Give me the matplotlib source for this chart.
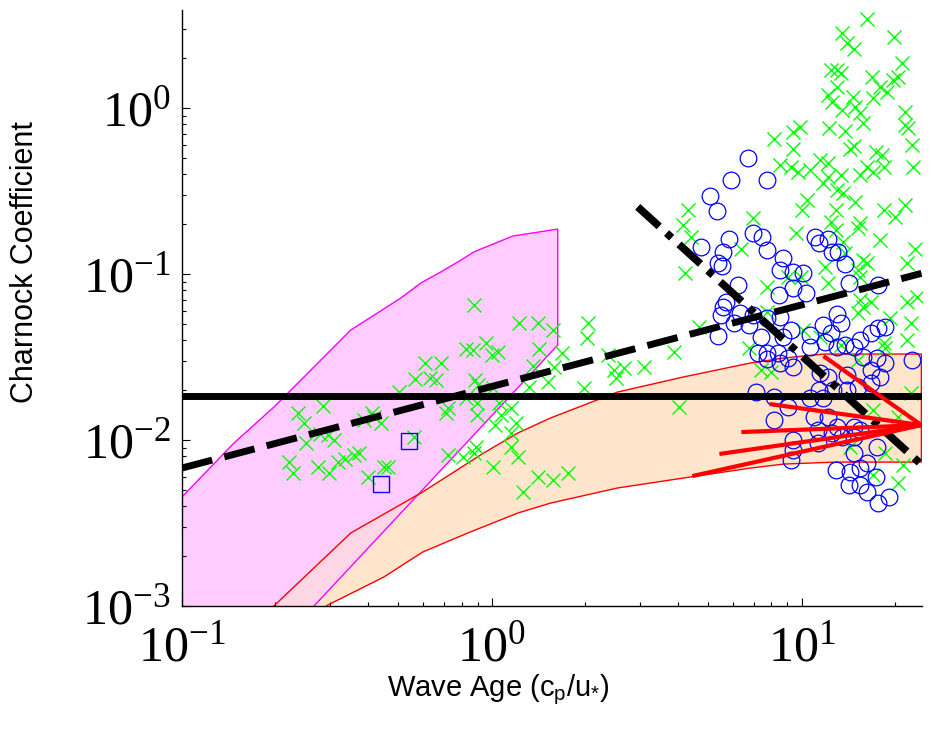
import numpy as np
import matplotlib
matplotlib.use("Agg")
import matplotlib.pyplot as plt
from matplotlib.patches import Polygon

plt.rcParams['font.family'] = ['Liberation Serif', 'DejaVu Serif']
plt.rcParams['mathtext.fontset'] = 'custom'
plt.rcParams['mathtext.rm'] = 'Liberation Serif'
plt.rcParams['axes.unicode_minus'] = False

# values, stored as log10(value)
# green crosses
green_log_age = [
    -0.626, -0.606, -0.545, -0.600, -0.555, -0.529, -0.510, -0.655, -0.642, -0.561,
    -0.526, -0.497, -0.474, -0.445, -0.429, -0.400, -0.348, -0.335, -0.387, -0.381,
    -0.358, -0.413, -0.300,
    -0.058, 0.087, 0.148, 0.197, 0.310, 0.306, -0.084, -0.061, -0.019, 0.000,
    0.019, 0.152, 0.226, -0.216, -0.165, -0.248, -0.200, -0.181, -0.055, -0.045,
    0.132, 0.181, 0.200, 0.119, 0.297, 0.374, 0.394, 0.400, 0.003, -0.142,
    -0.148, -0.048, -0.048, -0.084, 0.023, 0.061, 0.029, 0.010, 0.077, 0.061,
    0.061, 0.084, -0.252, -0.142, -0.094, -0.052, -0.058, 0.003, 0.148, 0.197,
    0.245, 0.100,
    0.635, 0.619, 0.642, 0.623, 0.845, 0.806, 0.668, 0.587, 0.490, 0.426,
    0.829, 0.868, 0.603, 0.890,
    1.213, 1.132, 1.148, 1.171, 1.297, 1.326, 1.094, 1.116, 1.126, 1.229,
    1.255, 1.277, 1.294, 1.310, 1.116, 1.087, 1.100, 1.165, 1.232, 1.132,
    1.174, 1.190, 1.200, 1.335, 1.335, 1.345, 1.090, 1.142, 0.994, 0.971,
    0.910, 0.974, 1.158, 1.171, 1.239, 1.261, 1.358, 0.932, 0.965, 0.990,
    1.061, 1.084, 1.029, 1.213, 1.232, 1.265, 1.361, 1.084, 1.126, 1.190,
    1.071, 1.116, 1.135, 1.019, 1.174, 1.003, 1.110, 1.335, 1.265, 1.303,
    1.190, 1.181, 1.094, 1.110, 0.981, 1.255, 1.135, 1.368, 1.142, 1.197,
    1.213, 1.342, 1.077, 1.181, 1.190, 0.890, 1.087, 1.374, 1.190, 1.200,
    1.223, 1.342, 0.955, 0.997, 1.287, 1.352, 1.342, 1.006, 1.061, 1.265,
    1.181, 1.126,
    1.271, 1.181, 0.900, 1.352, 1.232, 1.310, 1.158, 1.271, 1.329, 1.232,
    1.310,
]
green_log_charnock = [
    -1.837, -1.898, -1.795, -2.018, -1.964, -1.970, -2.000, -2.133, -2.199, -2.163,
    -2.199, -2.133, -2.114, -2.090, -2.078, -2.223, -2.163, -2.163, -1.837, -1.861,
    -1.898, -1.880, -1.711,
    -1.187, -1.295, -1.295, -1.337, -1.295, -1.386, -1.452, -1.458, -1.416, -1.488,
    -1.470, -1.452, -1.476, -1.536, -1.536, -1.633, -1.627, -1.639, -1.639, -1.669,
    -1.554, -1.651, -1.560, -1.681, -1.687, -1.488, -1.578, -1.627, -1.687, -1.807,
    -1.837, -1.777, -1.849, -1.747, -1.777, -1.807, -1.849, -1.910, -1.898, -1.958,
    -2.042, -2.102, -1.982, -2.090, -2.102, -2.042, -2.078, -2.163, -2.223, -2.241,
    -2.199, -2.313,
    -0.614, -0.705, -0.777, -0.994, -0.663, -0.849, -1.319, -1.470, -1.560, -1.566,
    -1.446, -1.578, -1.801, -1.229,
    0.536, 0.452, 0.392, 0.355, 0.428, 0.271, 0.229, 0.229, 0.211, 0.187,
    0.127, 0.096, 0.169, 0.187, 0.127, 0.078, 0.036, 0.066, 0.060, -0.012,
    0.006, -0.030, -0.090, -0.024, -0.102, -0.120, -0.120, -0.139, -0.114, -0.145,
    -0.187, -0.247, -0.247, -0.229, -0.265, -0.283, -0.223, -0.343, -0.355, -0.386,
    -0.313, -0.331, -0.373, -0.355, -0.386, -0.355, -0.355, -0.416, -0.404, -0.404,
    -0.452, -0.494, -0.512, -0.554, -0.566, -0.614, -0.614, -0.584, -0.614, -0.657,
    -0.693, -0.723, -0.687, -0.735, -0.753, -0.795, -0.807, -0.849, -0.873, -0.916,
    -0.934, -0.934, -0.958, -0.976, -1.018, -1.078, -1.054, -1.139, -1.157, -1.199,
    -1.169, -1.169, -1.018, -1.018, -1.265, -1.295, -1.398, -1.337, -1.380, -1.416,
    -1.235, -1.428,
    -1.446, -1.518, -1.590, -1.717, -1.819, -1.861, -2.042, -2.078, -2.151, -2.211,
    -2.259,
]

# blue open circles
blue_log_age = [
    0.826, 0.771, 0.887, 0.706, 0.726, 0.765, 0.674, 0.748, 0.732, 0.742,
    0.845, 0.874, 0.890, 0.939, 0.932, 0.971, 1.006, 1.045, 1.055, 1.084,
    1.100, 1.119, 1.142, 0.794, 0.755, 0.748, 0.739, 0.803, 0.842, 0.781,
    0.829, 0.729, 0.868, 0.858, 0.890, 0.923, 0.852, 0.910, 0.910, 0.971,
    1.013, 0.926, 1.152, 1.248, 0.890, 0.932, 0.965, 1.029, 1.116, 1.126,
    1.071, 1.094, 1.077, 1.142, 1.190, 1.223, 1.248, 1.271, 0.939, 0.890,
    0.932, 0.971, 0.958, 1.029, 1.061, 1.084, 1.116, 1.168, 1.200, 1.245,
    1.271, 1.223, 1.255, 1.358, 1.148, 1.055, 1.103, 1.148, 1.181, 1.029,
    1.071, 1.223, 0.955, 1.039, 1.084, 1.116, 1.168, 1.190, 1.052, 1.100,
    1.132, 1.168, 0.974, 1.052, 1.245, 0.974, 1.168, 0.965, 1.110, 1.213,
    1.158, 1.190, 1.239, 1.152, 1.190, 1.213, 1.281, 1.248,
]
blue_log_charnock = [
    -0.301, -0.434, -0.434, -0.530, -0.620, -0.789, -0.837, -0.867, -0.934, -0.952,
    -0.753, -0.777, -0.855, -0.904, -0.976, -0.988, -0.994, -0.777, -0.813, -0.789,
    -0.867, -0.867, -0.940, -1.066, -1.169, -1.199, -1.247, -1.235, -1.247, -1.295,
    -1.307, -1.373, -1.380, -1.476, -1.512, -1.476, -1.711, -1.741, -1.880, -1.084,
    -1.114, -1.127, -1.054, -1.066, -1.265, -1.259, -1.337, -1.367, -1.241, -1.295,
    -1.307, -1.355, -1.410, -1.428, -1.398, -1.355, -1.325, -1.319, -1.380, -1.476,
    -1.536, -1.560, -1.506, -1.440, -1.596, -1.620, -1.440, -1.440, -1.500, -1.506,
    -1.536, -1.578, -1.620, -1.518, -1.608, -1.699, -1.699, -1.699, -1.681, -1.747,
    -1.747, -1.657, -1.801, -1.861, -1.861, -1.922, -1.922, -1.940, -1.940, -1.958,
    -1.982, -1.982, -2.000, -2.018, -2.042, -2.060, -2.078, -2.120, -2.181, -2.139,
    -2.193, -2.169, -2.223, -2.271, -2.271, -2.313, -2.343, -2.380,
]

# blue squares
square_age = [0.54, 0.44]
square_charnock = [0.0099, 0.0054]

# magenta band
pink_log_age = [-1.0, -0.832, -0.703, -0.606, -0.455, -0.294, -0.229, -0.165, -0.110,
                -0.058, -0.003, 0.068, 0.213, 0.213, -0.824, -1.0]
pink_log_charnock = [-2.343, -2.018, -1.801, -1.620, -1.337, -1.145, -1.054, -0.988, -0.928,
                     -0.867, -0.825, -0.771, -0.729, -1.428, -3.5, -3.5]

# peach band
peach_log_age = [-0.80, -0.700, -0.455, -0.223, -0.026, 0.084, 0.190, 0.406, 0.619, 0.835,
                 0.942, 1.071, 1.387, 1.387, 1.110, 0.942, 0.835, 0.619, 0.406, 0.190,
                 0.084, -0.077, -0.223, -0.348, -0.529, -0.65]
peach_log_charnock = [-3.17, -2.994, -2.560, -2.313, -2.078, -1.958, -1.867, -1.711, -1.620, -1.536,
                      -1.506, -1.482, -1.482, -2.133, -2.133, -2.145, -2.169, -2.229, -2.289, -2.380,
                      -2.440, -2.560, -2.675, -2.825, -2.994, -3.17]

# lines
const_age = [0.1, 24.4]
const_charnock = [0.0185, 0.0185]
dashed_age = [0.1, 24.4]
dashed_charnock = [0.00678, 0.101]
dashdot_age = [2.96, 24.5]
dashdot_charnock = [0.254, 0.00706]
fan_log_age_start = [1.071, 0.897, 0.806, 0.735, 0.648]
fan_log_charnock_start = [-1.494, -1.783, -1.952, -2.084, -2.217]
fan_log_age_end = 1.387
fan_log_charnock_end = -1.910

fig = plt.figure(figsize=(9.38, 7.34), dpi=100)
ax = fig.add_axes([0.194, 0.1744, 0.789, 0.812])
ax.set_xscale('log')
ax.set_yscale('log')

pink_xy = np.column_stack([10 ** np.array(pink_log_age), 10 ** np.array(pink_log_charnock)])
peach_xy = np.column_stack([10 ** np.array(peach_log_age), 10 ** np.array(peach_log_charnock)])

pink = Polygon(pink_xy, closed=True, facecolor='#ffccff', edgecolor='none', zorder=1)
ax.add_patch(pink)
peach = Polygon(peach_xy, closed=True, facecolor='#ffe5cc', edgecolor='none', zorder=1.1)
ax.add_patch(peach)
overlap = Polygon(peach_xy, closed=True, facecolor='#ffd6e6', edgecolor='none', zorder=1.2)
ax.add_patch(overlap)
overlap.set_clip_path(pink)
ax.add_patch(Polygon(pink_xy, closed=True, fill=False, edgecolor='magenta', lw=1.0, zorder=1.5))
ax.add_patch(Polygon(peach_xy, closed=True, fill=False, edgecolor='red', lw=1.0, zorder=1.6))

ax.plot(10 ** np.array(green_log_age), 10 ** np.array(green_log_charnock), 'x',
        color='#00ff00', ms=10, mew=1.0, zorder=3)
ax.plot(10 ** np.array(blue_log_age), 10 ** np.array(blue_log_charnock), 'o',
        mfc='none', mec='blue', ms=12, mew=0.9, zorder=3.1)
ax.plot(square_age, square_charnock, 's', mfc='none', mec='blue', ms=11, mew=1.0, zorder=3.2)

ax.plot(const_age, const_charnock, color='black', lw=5, solid_capstyle='butt', zorder=4)
ax.plot(dashed_age, dashed_charnock, color='black', lw=5, linestyle=(0, (4.5, 1.8)),
        dash_capstyle='butt', zorder=4)
ax.plot(dashdot_age, dashdot_charnock, color='black', lw=5.5, linestyle=(0, (3.8, 1.3, 0.9, 1.3)),
        dash_capstyle='butt', zorder=4)
for sx, sy in zip(fan_log_age_start, fan_log_charnock_start):
    ax.plot([10 ** sx, 10 ** fan_log_age_end], [10 ** sy, 10 ** fan_log_charnock_end],
            color='red', lw=3, solid_capstyle='butt', zorder=5)

ax.set_xlim(0.1, 24.5)
ax.set_ylim(1e-3, 3.9)

for side in ['top', 'right']:
    ax.spines[side].set_visible(False)
for side in ['left', 'bottom']:
    ax.spines[side].set_linewidth(1.0)
ax.tick_params(which='both', direction='in', width=0.8, labelsize=36)
ax.tick_params(which='major', length=6)
ax.tick_params(which='minor', length=3)
ax.tick_params(axis='x', pad=14)
ax.tick_params(axis='y', pad=8)

ax.set_xlabel('Wave Age (c$_\\mathregular{p}$/u$_\\mathregular{*}$)', fontsize=21,
              family='Liberation Sans')
ax.set_ylabel('Charnock Coefficient', fontsize=22, family='Liberation Sans')
ax.xaxis.set_label_coords(0.427, -0.141)
ax.yaxis.set_label_coords(-0.212, 0.577)
ax.xaxis.label.set_va('center')
ax.yaxis.label.set_va('center')

fig.savefig('out.png', dpi=100)
